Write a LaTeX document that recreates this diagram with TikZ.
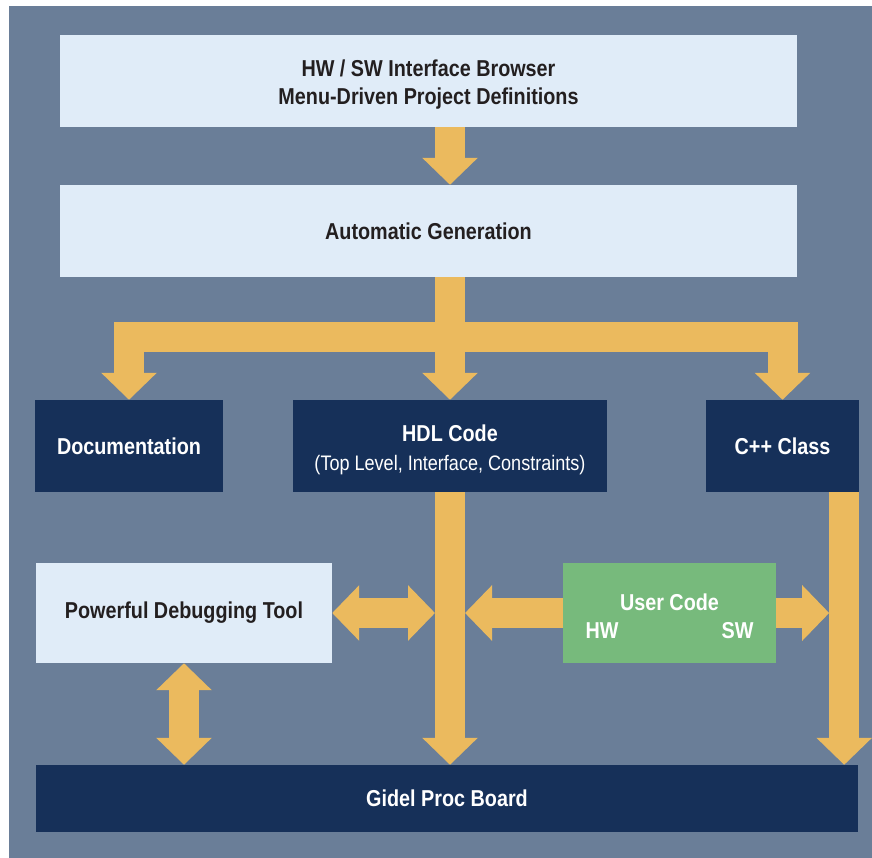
\documentclass[tikz,border=0pt]{standalone}
\usepackage{fontspec}
\setmainfont{Liberation Sans}[FakeStretch=0.86]
\usetikzlibrary{arrows.meta}
\definecolor{panel}{HTML}{6A7E98}
\definecolor{lightbox}{HTML}{E0ECF8}
\definecolor{navy}{HTML}{163059}
\definecolor{usergreen}{HTML}{77BA7C}
\definecolor{gold}{HTML}{EBBA5E}
\definecolor{inkdark}{HTML}{231F20}
\newcommand{\toproom}{\rule{0pt}{24pt}}
\tikzset{
  box/.style={inner sep=0pt,align=center,font=\bfseries\fontsize{23}{28}\selectfont},
  lightbox/.style={box,fill=lightbox,text=inkdark},
  darkbox/.style={box,fill=navy,text=white},
  fat/.style={draw=gold,line width=30pt,line join=miter,-{Triangle[width=54pt,length=27pt]}},
  fatboth/.style={fat,{Triangle[width=54pt,length=27pt]}-{Triangle[width=54pt,length=27pt]}}
}
\begin{document}
\begin{tikzpicture}[x=1pt,y=-1pt]
  \useasboundingbox (0,0) rectangle (872,858);
  \fill[panel] (9,6) rectangle (872,858);

  \node[lightbox,minimum width=737pt,minimum height=92pt] (browser) at (428.5,81)
    {\toproom HW / SW Interface Browser\\Menu-Driven Project Definitions};
  \node[lightbox,minimum width=737pt,minimum height=92pt] (gen) at (428.5,231) {Automatic Generation};
  \node[darkbox,minimum width=188pt,minimum height=92pt] (doc) at (129,446) {Documentation};
  \node[darkbox,minimum width=314pt,minimum height=92pt] (hdl) at (450,446)
    {\toproom HDL Code\\[1pt]{\mdseries\fontsize{21}{26}\selectfont (Top Level, Interface, Constraints)}};
  \node[darkbox,minimum width=153pt,minimum height=92pt] (cpp) at (782.5,446) {C++ Class};
  \node[lightbox,minimum width=296pt,minimum height=100pt] (debug) at (184,613) {Powerful Debugging Tool};
  \node[box,fill=usergreen,text=white,minimum width=213pt,minimum height=100pt] (user) at (669.5,613)
    {\toproom User Code\\\makebox[168pt]{HW\hfill SW}};
  \node[darkbox,minimum width=822pt,minimum height=67pt] (gidel) at (447,798.5) {Gidel Proc Board};

  \coordinate (bar) at (448,337);
  \coordinate (cppdown) at ([xshift=-15pt]cpp.south east);

  \draw[fat] (browser.south -| hdl.north) -- (gen.north -| hdl.north);
  \draw[fatboth] (doc.north) -- (doc.north |- bar) -- (cpp.north |- bar) -- (cpp.north);
  \draw[fat] (gen.south -| hdl.north) -- (hdl.north);
  \draw[fat] (hdl.south) -- (gidel.north -| hdl.south);
  \draw[fat] (cppdown) -- (gidel.north -| cppdown);
  \draw[fatboth] (debug.east) -- ([xshift=-15pt]hdl.south |- debug.east);
  \draw[fat] (user.west) -- ([xshift=15pt]hdl.south |- user.west);
  \draw[fat] (user.east) -- ([xshift=-15pt]cppdown |- user.east);
  \draw[fatboth] (debug.south) -- (debug.south |- gidel.north);
\end{tikzpicture}
\end{document}
